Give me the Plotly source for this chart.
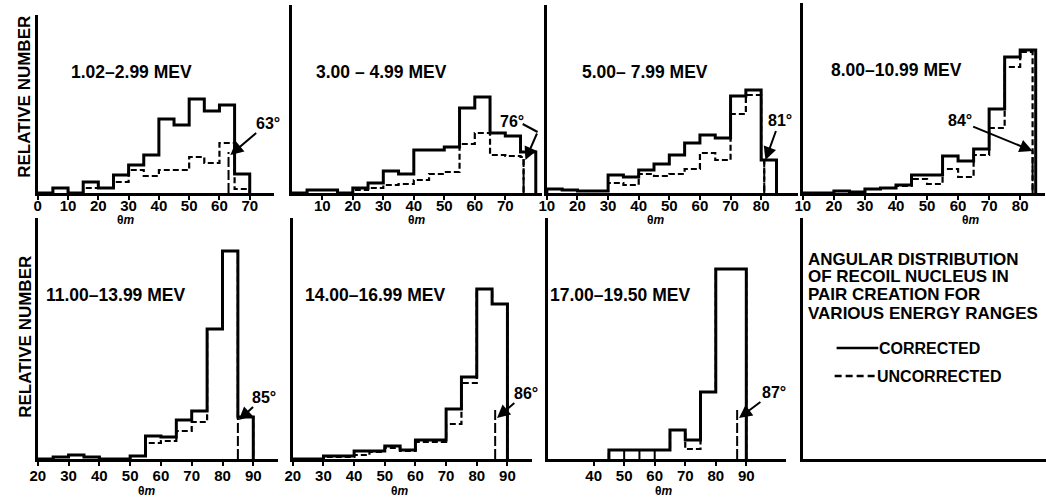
import plotly.graph_objects as go

# ---------------- data ----------------
ENERGY_RANGES = ["1.02–2.99 MEV", "3.00 – 4.99 MEV", "5.00– 7.99 MEV", "8.00–10.99 MEV",
                 "11.00–13.99 MEV", "14.00–16.99 MEV", "17.00–19.50 MEV"]

BIN_WIDTH = 5                                  # degrees per histogram bin
BIN_START = [0, 0, 10, 10, 20, 20, 45]         # left edge of first bin, per panel

CORRECTED_1 = [0, 5, 0, 11, 5, 18, 28, 38, 74, 68, 94, 82, 88, 19]
UNCORRECTED_1 = [0, 5, 0, 5, 5, 11, 23, 17, 23, 23, 36, 30, 50, 4]
CORRECTED_2 = [0, 3, 3, 0, 5, 10, 22, 19, 43, 43, 46, 85, 96, 60, 57, 41]
UNCORRECTED_2 = [0, 3, 3, 0, 3, 5, 8, 9, 13, 19, 21, 49, 60, 38, 37, 36]
CORRECTED_3 = [4, 3, 2, 2, 18, 16, 23, 29, 38, 50, 58, 55, 97, 103, 33]
UNCORRECTED_3 = [4, 3, 2, 2, 10, 8, 19, 17, 19, 24, 40, 33, 79, 98, 33]
CORRECTED_4 = [0, 0, 2, 1, 4, 5, 8, 18, 18, 37, 32, 44, 84, 136, 143]
UNCORRECTED_4 = [0, 0, 2, 1, 4, 5, 7, 14, 9, 24, 16, 38, 65, 126, 141]
CORRECTED_5 = [0, 2, 4, 2, 0, 0, 3, 23, 22, 39, 48, 130, 208, 42]
UNCORRECTED_5 = [0, 2, 4, 2, 0, 0, 3, 16, 18, 28, 37, 130, 208, 42]
CORRECTED_6 = [0, 0, 3, 3, 8, 8, 13, 9, 19, 19, 50, 82, 170, 155]
UNCORRECTED_6 = [0, 0, 2, 2, 4, 7, 11, 8, 17, 17, 35, 76, 170, 155]
CORRECTED_7 = [9, 9, 9, 9, 29, 19, 67, 190, 190]
UNCORRECTED_7 = [9, 9, 9, 9, 29, 10, 67, 190, 190]

CORRECTED = [CORRECTED_1, CORRECTED_2, CORRECTED_3, CORRECTED_4,
             CORRECTED_5, CORRECTED_6, CORRECTED_7]
UNCORRECTED = [UNCORRECTED_1, UNCORRECTED_2, UNCORRECTED_3, UNCORRECTED_4,
               UNCORRECTED_5, UNCORRECTED_6, UNCORRECTED_7]

UNCORRECTED_END = [70, 76, 81, 84, 90, 90, 90]  # last angle of the uncorrected histogram
CUTOFF_DEG = [63, 76, 81, 84, 85, 86, 87]       # kinematic limit of each energy range
CUTOFF_TOP = [41, 34, 33, 42, 41, 49, 49]       # height of the limit marker

DIVIDER_EDGES_7 = [50, 55, 60]                  # bin walls drawn inside the last panel

TICKS = [list(range(0, 80, 10)), list(range(10, 80, 10)), list(range(10, 90, 10)),
         list(range(10, 90, 10)), list(range(20, 100, 10)), list(range(20, 100, 10)),
         list(range(40, 100, 10))]

# ---------------- layout geometry (pixels) ----------------
W, H = 1046, 504
# left, right, baseline, top of each panel frame
PANEL_BOX = [(30, 268, 193, 15), (286, 538, 193, 5), (543, 796, 193, 5), (801, 1045, 193, 3),
             (30, 272, 459, 218), (287, 528, 459, 218), (544, 784, 459, 218)]
X_RANGE = [(0, 78), (0, 82), (10, 92), (10, 88), (20, 98), (20, 98), (25, 103)]

LABEL_POS = [(31, 121), (29.5, 121), (42, 121), (40, 123), (45.3, 164), (46.7, 164), (48.5, 164)]
DEG_TEXT_POS = [(76, 70), (72.3, 71), (86, 72), (60.5, 72), (93.5, 62), (96, 66), (99, 67)]
ARROW_TIP = [(63.6, 38), (76.6, 33), (81.4, 33), (84, 42), (85.3, 39), (86.6, 41), (87.6, 41)]
THETA_X = [29, 41, 45.7, 64, 55.5, 55, 63]

FONT = "Liberation Sans"
INK = "black"


def px_x(a, b):
    return [a / W, b / W]


def px_y(bottom, top):
    return [(H - bottom) / H, (H - top) / H]


def step_outline(start, values, end=None):
    """Histogram outline from baseline to baseline, optionally cut at `end`."""
    edges = [start + i * BIN_WIDTH for i in range(len(values) + 1)]
    if end is None:
        end = edges[-1]
    xs, ys = [edges[0]], [0]
    for i, v in enumerate(values):
        left = edges[i]
        if left >= end:
            break
        right = min(edges[i + 1], end)
        xs += [left, right]
        ys += [v, v]
    xs.append(xs[-1])
    ys.append(0)
    return xs, ys


def bold(size):
    return dict(family=FONT, size=size, color=INK, weight="bold")


def paper_text(x_px, y_px, text, size, xanchor="center", angle=0):
    return dict(x=x_px / W, y=(H - y_px) / H, xref="paper", yref="paper",
                xanchor=xanchor, yanchor="middle", text=text, textangle=angle,
                showarrow=False, font=bold(size))


fig = go.Figure()
annotations = []
shapes = []
layout_axes = {}

for i in range(7):
    n = i + 1
    xa = "x" if n == 1 else f"x{n}"
    ya = "y" if n == 1 else f"y{n}"
    left, right, base, top = PANEL_BOX[i]

    # uncorrected (dashed) underneath, corrected (solid) on top
    ux, uy = step_outline(BIN_START[i], UNCORRECTED[i], UNCORRECTED_END[i])
    fig.add_trace(go.Scatter(x=ux, y=uy, mode="lines", xaxis=xa, yaxis=ya,
                             line=dict(color=INK, width=2.2, dash="6px,3px"),
                             showlegend=False, hoverinfo="skip"))
    cx, cy = step_outline(BIN_START[i], CORRECTED[i])
    fig.add_trace(go.Scatter(x=cx, y=cy, mode="lines", xaxis=xa, yaxis=ya,
                             line=dict(color=INK, width=3),
                             showlegend=False, hoverinfo="skip"))

    # kinematic limit marker
    fig.add_trace(go.Scatter(x=[CUTOFF_DEG[i], CUTOFF_DEG[i]], y=[0, CUTOFF_TOP[i]],
                             mode="lines", xaxis=xa, yaxis=ya,
                             line=dict(color=INK, width=2, dash="10px,3px"),
                             showlegend=False, hoverinfo="skip"))

    layout_axes["xaxis" if n == 1 else f"xaxis{n}"] = dict(
        domain=px_x(left, right), range=list(X_RANGE[i]), anchor=ya,
        tickmode="array", tickvals=TICKS[i], ticks="outside", ticklen=4, tickwidth=2,
        tickcolor=INK, showline=True, linewidth=2.5, linecolor=INK,
        showgrid=False, zeroline=False,
        ticklabelstandoff=-7 if i < 4 else -3,
        tickfont=bold(15))
    layout_axes["yaxis" if n == 1 else f"yaxis{n}"] = dict(
        domain=px_y(base, top), range=[0, base - top], anchor=xa,
        showline=True, linewidth=2.5, linecolor=INK, showticklabels=False,
        ticks="", showgrid=False, zeroline=False)

    # energy range label
    annotations.append(dict(x=LABEL_POS[i][0], y=LABEL_POS[i][1], xref=xa, yref=ya,
                            xanchor="center", yanchor="middle",
                            text=ENERGY_RANGES[i], showarrow=False, font=bold(17.5)))
    # axis name
    annotations.append(dict(x=THETA_X[i], y=(H - (220 if i < 4 else 491)) / H,
                            xref=xa, yref="paper", xanchor="center", yanchor="middle",
                            text="θ<i>m</i>", showarrow=False, font=bold(12)))

    deg_text = f"{CUTOFF_DEG[i]}°"
    tx, ty = DEG_TEXT_POS[i]
    hx, hy = ARROW_TIP[i]
    if i == 1:
        # label with a bent leader
        annotations.append(dict(x=tx, y=ty, xref=xa, yref=ya, xanchor="center",
                                yanchor="middle", text=deg_text, showarrow=False,
                                font=bold(16)))
        bend = (80.6, 61)
        shapes.append(dict(type="line", xref=xa, yref=ya, x0=tx + 3.4, y0=ty - 2,
                           x1=bend[0], y1=bend[1], line=dict(color=INK, width=2)))
        annotations.append(dict(x=hx, y=hy, xref=xa, yref=ya, ax=bend[0], ay=bend[1],
                                axref=xa, ayref=ya, text="", showarrow=True,
                                arrowhead=2, arrowsize=1.3, arrowwidth=2, arrowcolor=INK,
                                standoff=0, startstandoff=0))
    else:
        annotations.append(dict(x=hx, y=hy, xref=xa, yref=ya, ax=tx, ay=ty,
                                axref=xa, ayref=ya, text=deg_text, showarrow=True,
                                arrowhead=2, arrowsize=1.3, arrowwidth=2, arrowcolor=INK,
                                standoff=0, font=bold(16)))

# bin walls inside the 17.00-19.50 MeV panel
wall_x, wall_y = [], []
for e in DIVIDER_EDGES_7:
    k = (e - BIN_START[6]) // BIN_WIDTH
    h = min(CORRECTED_7[k - 1], CORRECTED_7[k])
    wall_x += [e, e, None]
    wall_y += [0, h, None]
fig.add_trace(go.Scatter(x=wall_x, y=wall_y, mode="lines", xaxis="x7", yaxis="y7",
                         line=dict(color=INK, width=2), showlegend=False, hoverinfo="skip"))

# key panel frame
fig.add_trace(go.Scatter(x=[None], y=[None], xaxis="x8", yaxis="y8", showlegend=False))
layout_axes["xaxis8"] = dict(domain=px_x(801, 1046), range=[0, 1], anchor="y8",
                             showline=True, linewidth=2.5, linecolor=INK,
                             showticklabels=False, ticks="", showgrid=False, zeroline=False)
layout_axes["yaxis8"] = dict(domain=px_y(459, 218), range=[0, 1], anchor="x8",
                             showline=True, linewidth=2.5, linecolor=INK,
                             showticklabels=False, ticks="", showgrid=False, zeroline=False)

# vertical axis titles
for yc in (97, 337):
    annotations.append(paper_text(17, yc, "RELATIVE NUMBER", 17, angle=-90))

# caption and key
caption = ["ANGULAR DISTRIBUTION", "OF RECOIL NUCLEUS IN",
           "PAIR CREATION FOR", "VARIOUS ENERGY RANGES"]
for line, yc in zip(caption, (259, 276.5, 294.5, 313.5)):
    annotations.append(paper_text(804, yc, line, 17, xanchor="left"))

shapes.append(dict(type="line", xref="paper", yref="paper", x0=835 / W, x1=877 / W,
                   y0=(H - 348) / H, y1=(H - 348) / H, line=dict(color=INK, width=2.5)))
shapes.append(dict(type="line", xref="paper", yref="paper", x0=833 / W, x1=875 / W,
                   y0=(H - 376) / H, y1=(H - 376) / H,
                   line=dict(color=INK, width=2.5, dash="7px,4px")))
annotations.append(paper_text(876, 348, "CORRECTED", 16, xanchor="left"))
annotations.append(paper_text(874, 376, "UNCORRECTED", 16, xanchor="left"))

fig.update_layout(width=W, height=H, margin=dict(l=0, r=0, t=0, b=0),
                  paper_bgcolor="white", plot_bgcolor="white",
                  annotations=annotations, shapes=shapes, **layout_axes)

fig.write_html("out.html")
